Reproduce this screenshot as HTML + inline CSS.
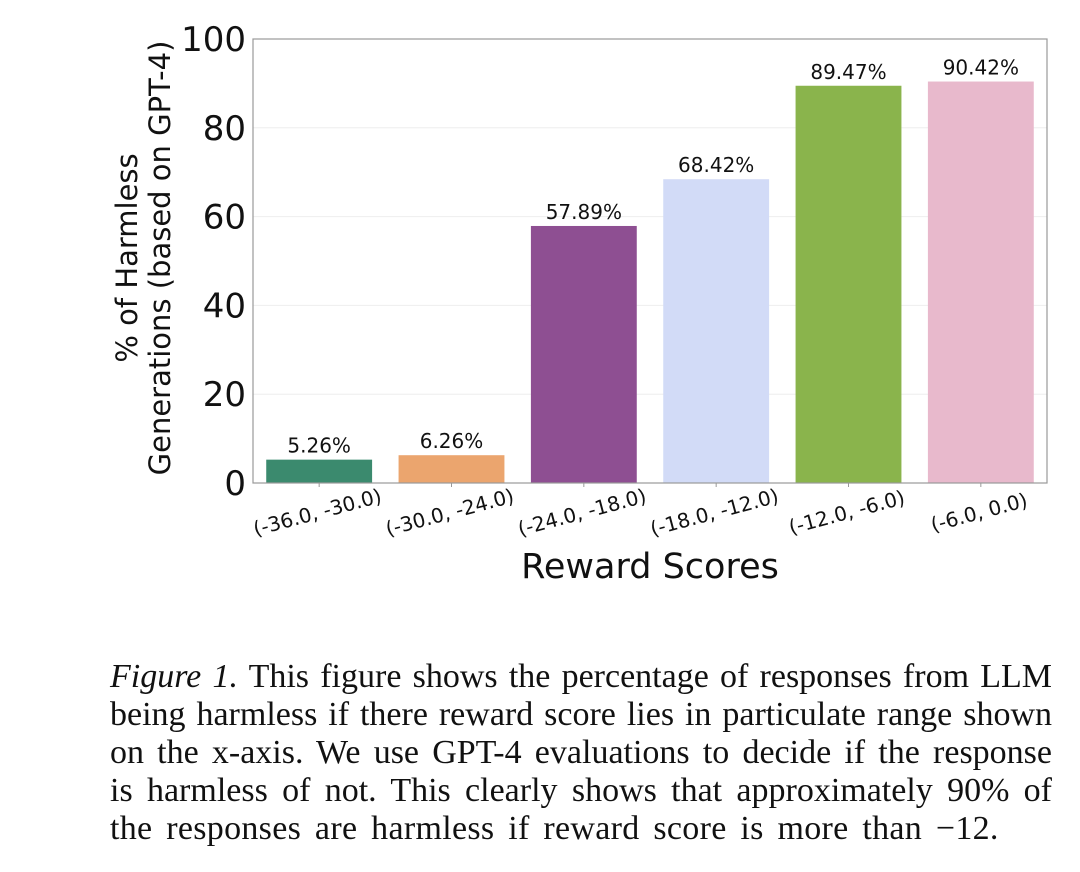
<!DOCTYPE html>
<html><head><meta charset="utf-8"><style>
body{margin:0;background:#fff;width:1080px;height:872px;overflow:hidden;font-family:"DejaVu Sans","Liberation Sans",sans-serif}
#cap{position:absolute;left:110px;top:658px;width:942px;font-family:"Liberation Serif",serif;font-size:34px;line-height:38px;color:#111}
#cap span{display:block;text-align:justify;text-align-last:justify;white-space:nowrap}
#cap span.last{text-align-last:left;word-spacing:5px;letter-spacing:0.3px}
</style></head><body>
<svg id="chart" width="1080" height="620" style="position:absolute;left:0;top:0"></svg>
<div id="cap"><span><i>Figure 1.</i> This figure shows the percentage of responses from LLM</span><span>being harmless if there reward score lies in particulate range shown</span><span>on the x-axis. We use GPT-4 evaluations to decide if the response</span><span>is harmless of not. This clearly shows that approximately 90% of</span><span class="last">the responses are harmless if reward score is more than &minus;12.</span></div>
<script>
const categories=["(-36.0, -30.0)","(-30.0, -24.0)","(-24.0, -18.0)","(-18.0, -12.0)","(-12.0, -6.0)","(-6.0, 0.0)"];
const values=[5.26,6.26,57.89,68.42,89.47,90.42];
const valueLabels=["5.26%","6.26%","57.89%","68.42%","89.47%","90.42%"];
const yTicks=[0,20,40,60,80,100];
const colors=["#3b8a6e","#eba56e","#8e4f92","#d2dbf7","#8ab44c","#e8b9cc"];
const svg=document.getElementById('chart');const NS='http://www.w3.org/2000/svg';
const L=253,R=1047,T=39,B=483;
const y=v=>B-(v/100)*(B-T);
const band=(R-L)/categories.length;
const x=i=>L+band*i;
function mk(t,a,p){const e=document.createElementNS(NS,t);for(const k in a)e.setAttribute(k,a[k]);(p||svg).appendChild(e);return e;}
yTicks.forEach(v=>{
 const g=mk('line',{x1:L,x2:R,y1:y(v),y2:y(v),stroke:'#eee','stroke-width':1});
 
 
 const t=mk('text',{x:246,y:y(v)+12,'text-anchor':'end','font-size':34,fill:'#111'});t.textContent=v;
 
 
});
categories.forEach((c,i)=>{
 const bw=band*0.8,bx=x(i)+band*0.1;
 const r=mk('rect',{x:bx,y:y(values[i]),width:bw,height:B-y(values[i]),fill:colors[i]});
 
 
 const vl=mk('text',{x:bx+bw/2,y:y(values[i])-7,'text-anchor':'middle','font-size':20,fill:'#111'});vl.textContent=valueLabels[i];
 
 
 const cx=x(i)+band/2;
 mk('line',{x1:cx,x2:cx,y1:B,y2:B+4,stroke:'#999'});
 const xl=mk('text',{x:cx,y:B+36,'text-anchor':'middle','font-size':20,fill:'#111',transform:`rotate(-15 ${cx} ${B+36})`});xl.textContent=c;
 
 
});
const fr=mk('rect',{x:L,y:T,width:R-L,height:B-T,fill:'none',stroke:'#999','stroke-width':1.2});


const xt=mk('text',{x:650,y:578,'text-anchor':'middle','font-size':35,fill:'#111'});xt.textContent='Reward Scores';


const yt=mk('text',{transform:'translate(0,258) rotate(-90)','text-anchor':'middle','font-size':29,fill:'#111'});


const s1=mk('tspan',{x:0,y:137},yt);s1.textContent='% of Harmless';
const s2=mk('tspan',{x:0,y:170},yt);s2.textContent='Generations (based on GPT-4)';
</script>
</body></html>
